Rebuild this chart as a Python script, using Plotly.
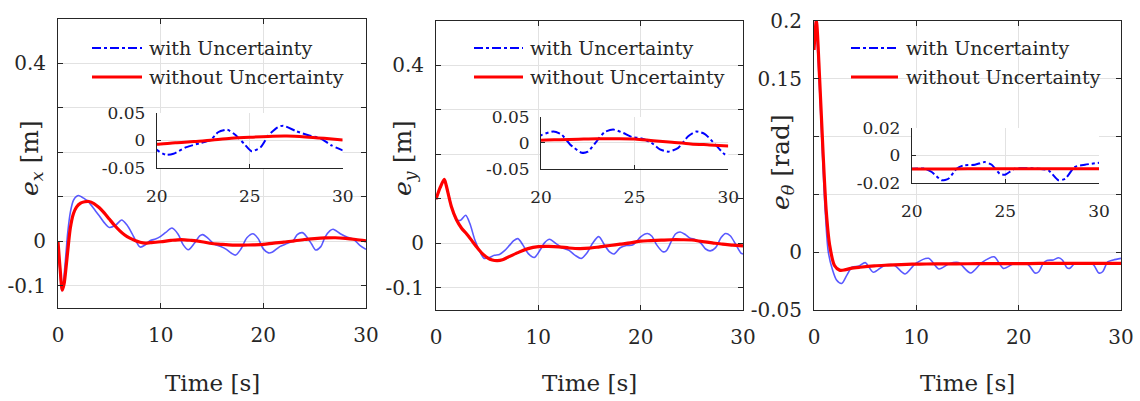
import plotly.graph_objects as go

# ---------------- data ----------------
# Panel 1: e_x [m]
EX_T_UNC = [0, 0.2, 0.36, 0.55, 0.75, 0.95, 1.2, 1.5, 1.8, 2.0, 2.5, 3.0, 3.5, 4.0, 4.5, 5.0,
            5.6, 6.2, 6.7, 7.2, 7.6, 8.0, 8.5, 9.0, 9.5, 10.0, 10.5, 11.1, 11.7, 12.2, 12.7,
            13.3, 13.8, 14.1, 14.6, 15.2, 15.8, 16.4, 16.9, 17.3, 17.8, 18.4, 19.0, 19.5,
            20.0, 20.5, 20.9, 21.6, 22.3, 22.9, 23.3, 23.8, 24.2, 24.7, 25.1, 25.6, 26.0,
            26.5, 26.8, 27.5, 28.2, 28.8, 29.4, 30.0]
EX_UNC = [0, -0.07, -0.111, -0.085, -0.035, 0.02, 0.065, 0.092, 0.101, 0.103, 0.097, 0.088,
          0.073, 0.058, 0.042, 0.031, 0.036, 0.048, 0.037, 0.018, 0.0, -0.013, -0.008, 0.002,
          0.005, 0.011, 0.02, 0.030, 0.016, -0.008, -0.019, -0.004, 0.012, 0.015, 0.007,
          -0.006, -0.011, -0.018, -0.027, -0.031, -0.018, 0.008, 0.017, 0.006, -0.017,
          -0.026, -0.024, -0.012, -0.005, 0.001, 0.015, 0.0195, 0.011, -0.006, -0.0195,
          -0.012, 0.009, 0.024, 0.027, 0.017, 0.009, 0.004, -0.009, -0.018]
EX_T_NOM = [0, 0.2, 0.42, 0.6, 0.8, 1.0, 1.2, 1.5, 1.8, 2.2, 2.6, 3.0, 3.5, 4.0, 4.5, 5.0,
            5.5, 6.0, 6.5, 7.0, 7.5, 8.0, 8.5, 9, 10, 11, 12, 13, 14, 15, 16, 17, 18, 19,
            20, 21, 22, 23, 24, 25, 26, 27, 28, 29, 30]
EX_NOM = [0, -0.06, -0.11, -0.095, -0.055, -0.01, 0.03, 0.062, 0.077, 0.086, 0.089, 0.0895,
          0.085, 0.076, 0.064, 0.05, 0.036, 0.024, 0.014, 0.007, 0.002, -0.002, -0.004,
          -0.003, -0.001, 0.002, 0.004, 0.002, -0.001, -0.005, -0.007, -0.0085, -0.0085,
          -0.008, -0.007, -0.004, -0.002, 0.001, 0.004, 0.006, 0.0075, 0.008, 0.0065,
          0.004, 0.001]

# Panel 2: e_y [m]
EY_T_UNC = [0, 0.4, 0.81, 1.2, 1.6, 2.0, 2.4, 2.9, 3.3, 3.8, 4.3, 4.7, 5.2, 5.7, 6.2, 6.7,
            7.2, 7.6, 8.0, 8.5, 9.0, 9.6, 10.2, 10.6, 11.1, 11.7, 12.3, 13.0, 13.6, 14.2,
            14.8, 15.3, 15.9, 16.5, 17.0, 17.4, 18.0, 18.6, 19.2, 19.6, 20.0, 20.66, 21.1,
            21.55, 22.17, 22.5, 22.97, 23.4, 23.86, 24.4, 24.84, 25.37, 25.9, 26.35, 26.8,
            27.33, 27.86, 28.3, 28.75, 29.3, 29.8, 30.0]
EY_UNC = [0.099, 0.125, 0.143, 0.113, 0.075, 0.053, 0.052, 0.063, 0.045, 0.0075, -0.019,
          -0.034, -0.032, -0.027, -0.025, -0.0165, -0.004, 0.006, 0.0105, -0.004, -0.0226,
          -0.032, -0.014, 0.001, 0.009, 0.0, -0.01, -0.016, -0.027, -0.034, -0.02, 0.0,
          0.015, -0.005, -0.02, -0.024, -0.01, -0.005, -0.004, 0.004, 0.0147, 0.022, 0.016,
          -0.003, -0.019, -0.017, 0.003, 0.021, 0.0256, 0.019, 0.0115, 0.0083, 0.0, -0.0128,
          -0.017, -0.0096, 0.0128, 0.022, 0.017, -0.003, -0.022, -0.024]
EY_T_NOM = [0, 0.4, 0.81, 1.0, 1.5, 2, 2.5, 3, 3.5, 4, 4.5, 5, 5.5, 6, 6.5, 7, 8, 9, 10, 11,
            12, 13, 14, 15, 16, 17, 18, 19, 20, 21, 22, 23, 24, 25, 26, 27, 28, 29, 30]
EY_NOM = [0.099, 0.125, 0.144, 0.13, 0.083, 0.053, 0.034, 0.021, 0.006, -0.009, -0.0226,
          -0.032, -0.0376, -0.039, -0.037, -0.0316, -0.021, -0.012, -0.0075, -0.007, -0.008,
          -0.0105, -0.012, -0.011, -0.008, -0.005, -0.002, 0.001, 0.005, 0.006, 0.007,
          0.008, 0.008, 0.0075, 0.004, 0.001, -0.002, -0.004, -0.006]

# Panel 3: e_theta [rad]
ET_T_UNC = [0, 0.15, 0.5, 0.8, 1.1, 1.4, 1.8, 2.2, 2.7, 3.2, 3.7, 4.4, 5.0, 5.8, 6.8, 7.8,
            8.9, 9.9, 11.2, 12.2, 13.2, 14.1, 15.3, 16.4, 17.6, 18.5, 19.5, 20.0, 20.7,
            21.07, 21.6, 21.96, 22.4, 22.76, 23.38, 23.9, 24.27, 24.7, 24.98, 25.5, 26.05,
            26.76, 27.3, 27.83, 28.2, 28.7, 29.25, 30.0]
ET_UNC = [0.175, 0.2, 0.15, 0.09, 0.035, 0.0, -0.015, -0.024, -0.027, -0.02, -0.013, -0.012,
          -0.009, -0.0174, -0.0119, -0.011, -0.0188, -0.010, -0.0053, -0.0145, -0.010,
          -0.009, -0.018, -0.009, -0.004, -0.014, -0.010, -0.0096, -0.0096, -0.012, -0.018,
          -0.0169, -0.0096, -0.0072, -0.0067, -0.0048, -0.0067, -0.0133, -0.014, -0.0096,
          -0.0092, -0.0096, -0.0108, -0.018, -0.0169, -0.0084, -0.0067, -0.0053]
ET_T_NOM = [0, 0.23, 0.55, 0.88, 1.2, 1.53, 2.0, 2.5, 3.0, 3.6, 4.5, 5.9, 7.2, 8.5, 9.6, 11,
            12.8, 15, 17, 19.3, 21, 23, 25, 27, 29, 30]
ET_NOM = [0.175, 0.2, 0.15, 0.087, 0.035, 0.006, -0.0115, -0.0155, -0.0153, -0.014, -0.013,
          -0.0118, -0.0112, -0.0107, -0.0104, -0.0102, -0.0101, -0.01, -0.0099, -0.0098,
          -0.0098, -0.0097, -0.0097, -0.0096, -0.0096, -0.0096]

# tick labels (labelled major ticks + unlabelled grid ticks)
MAIN_X_TICKS = [0, 10, 20, 30]
MAIN_X_TEXT = ["0", "10", "20", "30"]
XY_Y_TICKS = [-0.1, 0, 0.4]
XY_Y_TEXT = ["-0.1", "0", "0.4"]
XY_Y_GRID = [0.1, 0.2, 0.3]
TH_Y_TICKS = [-0.05, 0, 0.15, 0.2]
TH_Y_TEXT = ["-0.05", "0", "0.15", "0.2"]
TH_Y_GRID = [0.05, 0.1]
INSET_X_TICKS = [20, 25, 30]
INSET_X_TEXT = ["20", "25", "30"]
INSET_XY_Y_TICKS = [-0.05, 0, 0.05]
INSET_XY_Y_TEXT = ["-0.05", "0", "0.05"]
INSET_TH_Y_TICKS = [-0.02, 0, 0.02]
INSET_TH_Y_TEXT = ["-0.02", "0", "0.02"]

LEGEND_LABELS = ["with Uncertainty", "without Uncertainty"]
X_TITLE = "Time [s]"
Y_TITLES = ["<i>e</i><sub><i>x</i></sub> [m]", "<i>e</i><sub><i>y</i></sub> [m]",
            "<i>e</i><sub><i>θ</i></sub> [rad]"]

# ---------------- layout helpers ----------------
W, H = 1140, 401
FONT = "DejaVu Serif"
INK = "#262626"
GRID = "#e2e2e2"
BLUE = "#0000ff"
RED = "#ff0000"


def fx(p):
    return p / W


def fy(p):
    return 1 - p / H


# main axes boxes (left, right, top, bottom) in pixels
MAIN_BOX = [(58, 366, 19, 308), (436, 743, 21, 310), (814, 1121, 21, 310)]
INSET_BOX = [(156.7, 342.7, 113, 168), (541, 728.3, 117, 168.7), (911.7, 1099, 128, 183)]
MAIN_YRANGE = [[-0.15, 0.5], [-0.15, 0.5], [-0.05, 0.2]]
INSET_YRANGE = [[-0.05, 0.05], [-0.05, 0.05], [-0.02, 0.02]]
MAIN_YT = [(XY_Y_TICKS, XY_Y_TEXT, XY_Y_GRID), (XY_Y_TICKS, XY_Y_TEXT, XY_Y_GRID),
           (TH_Y_TICKS, TH_Y_TEXT, TH_Y_GRID)]
INSET_YT = [(INSET_XY_Y_TICKS, INSET_XY_Y_TEXT), (INSET_XY_Y_TICKS, INSET_XY_Y_TEXT),
            (INSET_TH_Y_TICKS, INSET_TH_Y_TEXT)]
SERIES = [(EX_T_UNC, EX_UNC, EX_T_NOM, EX_NOM),
          (EY_T_UNC, EY_UNC, EY_T_NOM, EY_NOM),
          (ET_T_UNC, ET_UNC, ET_T_NOM, ET_NOM)]
LEG_X = [(92, 142, 147), (474, 523, 528), (851, 898, 904)]
LEG_Y = [48, 77]
YTITLE_POS = [(31, 158), (404, 158), (782, 162)]

fig = go.Figure()
layout = dict(
    width=W, height=H, margin=dict(l=0, r=0, t=0, b=0, pad=0, autoexpand=False),
    autosize=False,
    paper_bgcolor="white", plot_bgcolor="white", showlegend=False,
    font=dict(family=FONT, color=INK),
)
annotations = []
shapes = []

for i in range(3):
    n_main = i + 1
    n_in = i + 4
    tu, vu, tn, vn = SERIES[i]
    xm = "x" if n_main == 1 else f"x{n_main}"
    ym = "y" if n_main == 1 else f"y{n_main}"
    xi, yi = f"x{n_in}", f"y{n_in}"

    fig.add_trace(go.Scatter(x=tu, y=vu, mode="lines", xaxis=xm, yaxis=ym,
                             line=dict(color="rgba(0,0,255,0.65)", width=1.6,
                                       shape="spline", smoothing=0.8),
                             hoverinfo="skip"))
    fig.add_trace(go.Scatter(x=tn, y=vn, mode="lines", xaxis=xm, yaxis=ym,
                             line=dict(color=RED, width=3.2, shape="spline", smoothing=0.8),
                             hoverinfo="skip"))
    fig.add_trace(go.Scatter(x=tu, y=vu, mode="lines", xaxis=xi, yaxis=yi,
                             line=dict(color=BLUE, width=2, dash="dashdot",
                                       shape="spline", smoothing=0.6),
                             hoverinfo="skip"))
    fig.add_trace(go.Scatter(x=tn, y=vn, mode="lines", xaxis=xi, yaxis=yi,
                             line=dict(color=RED, width=3, shape="spline", smoothing=0.8),
                             hoverinfo="skip"))

    l, r, t, b = MAIN_BOX[i]
    kx = "xaxis" if n_main == 1 else f"xaxis{n_main}"
    ky = "yaxis" if n_main == 1 else f"yaxis{n_main}"
    layout[kx] = dict(domain=[fx(l), fx(r)], anchor=ym, range=[0, 30], automargin=False,
                      tickvals=MAIN_X_TICKS, ticktext=MAIN_X_TEXT,
                      ticks="inside", ticklen=5, tickcolor=INK, mirror="ticks",
                      showline=True, linecolor=INK, linewidth=1,
                      showgrid=True, gridcolor=GRID, zeroline=False,
                      tickfont=dict(family=FONT, size=20, color=INK),
                      ticklabelstandoff=9)
    tv, tt, tg = MAIN_YT[i]
    layout[ky] = dict(domain=[fy(b), fy(t)], anchor=xm, range=MAIN_YRANGE[i],
                      automargin=False,
                      tickvals=tv, ticktext=tt,
                      ticks="inside", ticklen=5, tickcolor=INK, mirror="ticks",
                      showline=True, linecolor=INK, linewidth=1,
                      showgrid=True, gridcolor=GRID, zeroline=False,
                      minor=dict(tickmode="array", tickvals=tg, ticks="inside", ticklen=5,
                                 tickcolor=INK, showgrid=True, gridcolor=GRID),
                      tickfont=dict(family=FONT, size=20, color=INK),
                      ticklabelstandoff=7)

    l, r, t, b = INSET_BOX[i]
    tv, tt = INSET_YT[i]
    layout[f"xaxis{n_in}"] = dict(domain=[fx(l), fx(r)], anchor=yi, range=[20, 30],
                                  automargin=False,
                                  tickvals=INSET_X_TICKS, ticktext=INSET_X_TEXT,
                                  ticks="inside", ticklen=4, tickcolor=INK,
                                  showline=True, linecolor=INK, linewidth=1,
                                  showgrid=True, gridcolor=GRID, zeroline=False,
                                  tickfont=dict(family=FONT, size=17, color=INK),
                                  ticklabelstandoff=13)
    layout[f"yaxis{n_in}"] = dict(domain=[fy(b), fy(t)], anchor=xi, range=INSET_YRANGE[i],
                                  automargin=False,
                                  tickvals=tv, ticktext=tt,
                                  ticks="inside", ticklen=4, tickcolor=INK,
                                  showline=True, linecolor=INK, linewidth=1,
                                  showgrid=True, gridcolor=GRID, zeroline=False,
                                  tickfont=dict(family=FONT, size=17, color=INK),
                                  ticklabelstandoff=7)

    # legend (drawn as line samples + text)
    lx0, lx1, tx = LEG_X[i]
    for j, (col, w, dash) in enumerate([(BLUE, 2, "dashdot"), (RED, 3, "solid")]):
        shapes.append(dict(type="line", xref="paper", yref="paper",
                           x0=fx(lx0), x1=fx(lx1), y0=fy(LEG_Y[j]), y1=fy(LEG_Y[j]),
                           line=dict(color=col, width=w, dash=dash)))
        annotations.append(dict(text=LEGEND_LABELS[j], xref="paper", yref="paper",
                                x=fx(tx), y=fy(LEG_Y[j]), xanchor="left", yanchor="middle",
                                showarrow=False,
                                font=dict(family=FONT, size=19, color=INK)))

    # axis titles
    l, r, t, b = MAIN_BOX[i]
    annotations.append(dict(text=X_TITLE, xref="paper", yref="paper",
                            x=fx((l + r) / 2), y=fy(383), xanchor="center", yanchor="middle",
                            showarrow=False, font=dict(family=FONT, size=23, color=INK)))
    yx, yy = YTITLE_POS[i]
    annotations.append(dict(text=Y_TITLES[i], xref="paper", yref="paper",
                            x=fx(yx), y=fy(yy), xanchor="center", yanchor="middle",
                            textangle=-90, showarrow=False,
                            font=dict(family=FONT, size=25, color=INK)))

layout["annotations"] = annotations
layout["shapes"] = shapes
fig.update_layout(**layout)
fig.write_html("out.html")
